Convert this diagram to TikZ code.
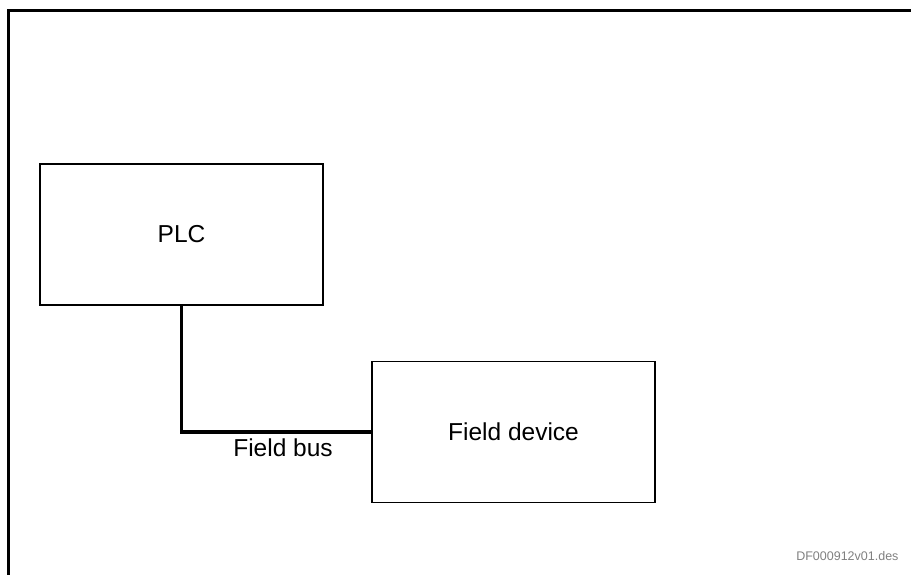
\documentclass[tikz,border=0pt]{standalone}
\usepackage{fontspec}
\setmainfont{Liberation Sans}
\usetikzlibrary{positioning}

\tikzset{
  unitbox/.style={draw, line width=1.5pt, minimum width=283pt, minimum height=141pt,
    inner sep=0pt, font=\fontsize{24.5}{28}\selectfont},
  busline/.style={line width=3.5pt},
  frameline/.style={line width=3pt}
}

\begin{document}
\begin{tikzpicture}[x=1pt, y=-1pt]
  \useasboundingbox (0,0) rectangle (911,575);
  % Rahmen oben und links
  \draw[frameline] (8,575) -- (8,11) -- (911,11);
  % Bloecke
  \node[unitbox] (plc) at (181.5,234.5) {PLC};
  \node[unitbox] (dev) at (513.5,432) {Field device};
  % Feldbus
  \draw[busline] (plc.south) |- (dev.west);
  \node[font=\fontsize{24.5}{28}\selectfont] (buslabel) at (283,448) {Field bus};
  % Zeichnungsnummer
  \node[gray, font=\fontsize{12.5}{14}\selectfont, anchor=east] (docid) at (902,556) {DF000912v01.des};
\end{tikzpicture}
\end{document}
